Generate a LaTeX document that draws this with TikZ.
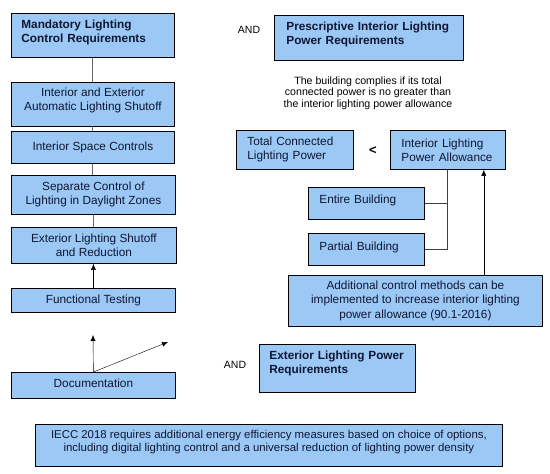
\documentclass[tikz,border=0pt]{standalone}
\usepackage{fontspec}
\setmainfont{Liberation Sans}
\usepackage{tikz}
\usetikzlibrary{arrows.meta}
\definecolor{boxblue}{RGB}{155,200,245}
\definecolor{boxtext}{RGB}{15,22,50}
\definecolor{linkgray}{RGB}{105,105,105}
\newcommand{\fbig}{\fontsize{11.8}{14}\selectfont}

\begin{document}
\begin{tikzpicture}[x=1pt, y=-1pt, >={Latex[length=6pt,width=5pt]},
  box/.style={draw=black, fill=boxblue, text=boxtext, line width=0.8pt, anchor=north west, inner ysep=0pt, font=\fbig},
  cbox/.style={box, inner xsep=0pt, align=center},
  lbox/.style={box, inner xsep=11pt, align=left},
  link/.style={draw=linkgray, line width=1pt},
  plain/.style={text=black, inner sep=0pt, align=center}]
\useasboundingbox (0,0) rectangle (550,474);
%\draw[very thin,color=gray] (0,0) grid[step=50] (550,474);
% mandatory controls
\node[lbox, inner xsep=10pt, text width=143, minimum height=44, text depth=22, font=\fbig\bfseries] (mand) at (11,13) {Mandatory Lighting\\Control Requirements};
\node[cbox, minimum width=163, minimum height=44, text depth=9.5] (shut) at (11,82) {Interior and Exterior\\Automatic Lighting Shutoff};
\node[cbox, minimum width=163, minimum height=32] (space) at (11,131) {Interior Space Controls};
\node[cbox, minimum width=164, minimum height=39] (day) at (11,175) {Separate Control of\\Lighting in Daylight Zones};
\node[cbox, minimum width=165, minimum height=36] (ext) at (11,227) {Exterior Lighting Shutoff\\and Reduction};
\node[cbox, minimum width=164, minimum height=24] (func) at (11,288) {Functional Testing};
\node[cbox, minimum width=164, minimum height=26, text depth=5] (doc) at (11,372) {Documentation};
\draw[link] (mand.south) -- (mand.south |- shut.north);
\draw[link] (shut.south) -- (shut.south |- space.north);
\draw[link] (space.south) -- (space.south |- day.north);
\draw[link] (day.south) -- (day.south |- ext.north);
\draw[->] (func.north) -- (func.north |- ext.south);
\coordinate (up) at (93,335);
\coordinate (side) at (168,342);
\draw[->] (doc.north) -- (up);
\draw[->] (doc.north) -- (side);
% interior power
\node[plain, font=\fontsize{10.5}{12}\selectfont] (and1) at (249,30) {AND};
\node[lbox, inner xsep=12pt, text width=165, minimum height=45, text depth=23, font=\fbig\bfseries] (presc) at (274,15) {Prescriptive Interior Lighting\\Power Requirements};
\node[plain, font=\fontsize{10.6}{11.5}\selectfont] (note) at (368,93) {The building complies if its total\\connected power is no greater than\\the interior lighting power allowance};
\node[lbox, text width=95, minimum height=39] (total) at (236,130) {Total Connected\\Lighting Power};
\node[plain, font=\fontsize{13}{14}\selectfont\bfseries] (lt) at (373,151) {<};
\node[lbox, text width=93, minimum height=39] (allow) at (390,130) {Interior Lighting\\Power Allowance};
\node[lbox, text width=94, minimum height=32, text depth=8] (entire) at (308,187) {Entire Building};
\node[lbox, text width=94, minimum height=32, text depth=6] (partial) at (308,233) {Partial Building};
\node[cbox, minimum width=254, minimum height=51, font=\fontsize{11.8}{14.5}\selectfont] (addl) at (288,275) {Additional control methods can be\\implemented to increase interior lighting\\power allowance (90.1-2016)};
\draw[link, draw=black!75] (allow.south) -- (allow.south |- partial.east) -- (partial.east);
\draw[link, draw=black!75] (entire.east) -- (entire.east -| allow.south);
\draw[->] ([xshift=-59]addl.north east) -- ([xshift=-59]addl.north east |- allow.south);
% exterior power
\node[plain, font=\fontsize{10.5}{12}\selectfont] (and2) at (235,365) {AND};
\node[lbox, inner xsep=10pt, text width=136, minimum height=48, text depth=26, font=\fbig\bfseries] (extp) at (259,344) {Exterior Lighting Power\\Requirements};
\node[cbox, minimum width=467, minimum height=42, text depth=9.5, font=\fontsize{11.4}{13}\selectfont] (iecc) at (35,424) {IECC 2018 requires additional energy efficiency measures based on choice of options,\\including digital lighting control and a universal reduction of lighting power density};
\end{tikzpicture}
\end{document}
